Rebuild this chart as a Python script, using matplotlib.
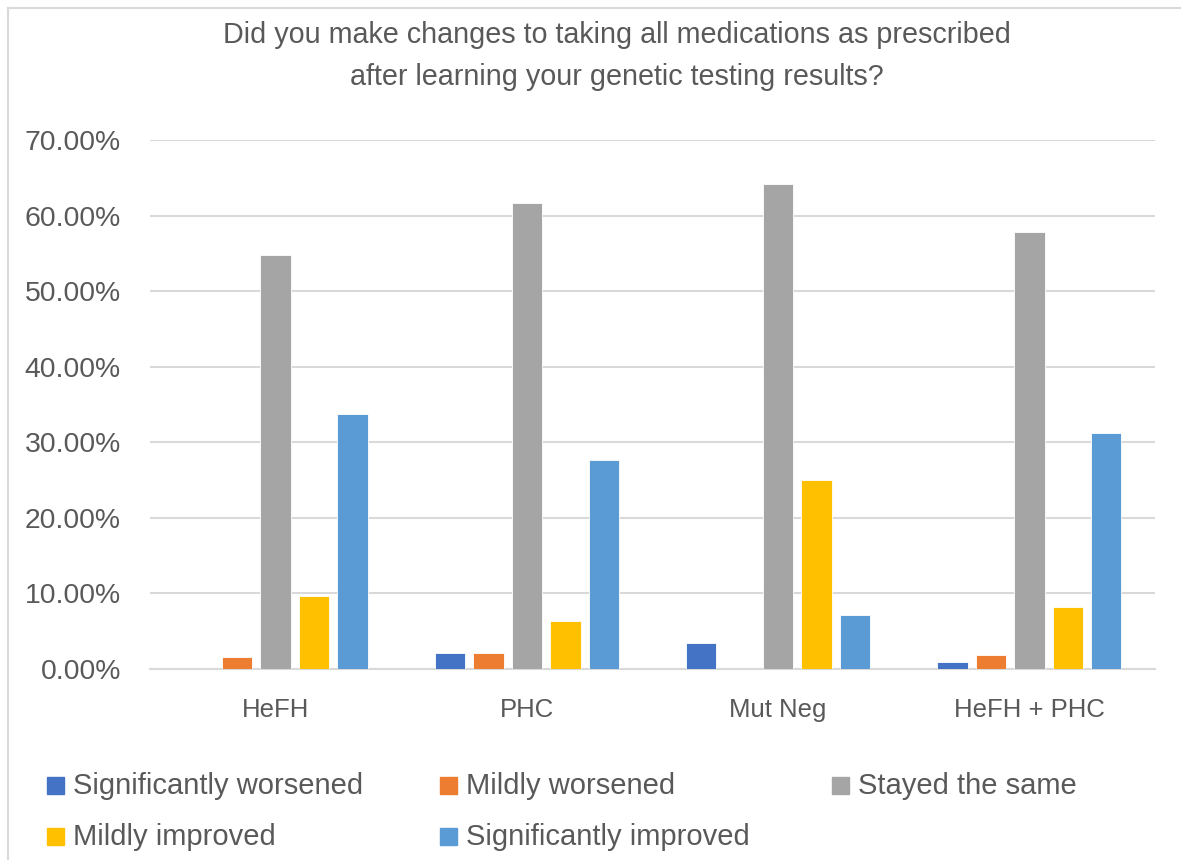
import numpy as np
import matplotlib
matplotlib.use("Agg")
import matplotlib.pyplot as plt
from matplotlib.patches import Rectangle
from matplotlib.lines import Line2D
from matplotlib.ticker import FuncFormatter

plt.rcParams['font.family'] = ['Liberation Sans', 'DejaVu Sans']

## data (fractions)
groups = ['HeFH', 'PHC', 'Mut Neg', 'HeFH + PHC']
responses = ['Significantly worsened', 'Mildly worsened', 'Stayed the same',
             'Mildly improved', 'Significantly improved']
sig_worsened = [0.0, 0.021, 0.035, 0.009]
mild_worsened = [0.016, 0.021, 0.0, 0.018]
stayed_same = [0.548, 0.616, 0.642, 0.578]
mild_improved = [0.096, 0.063, 0.250, 0.082]
sig_improved = [0.338, 0.277, 0.071, 0.312]
colors = ['#4472C4', '#ED7D31', '#A5A5A5', '#FFC000', '#5B9BD5']

series = [sig_worsened, mild_worsened, stayed_same, mild_improved, sig_improved]
txt = '#595959'

W, H = 1181, 860
fig = plt.figure(figsize=(W / 100, H / 100), dpi=100)

# outer chart frame: left and top edges
fx, fy = 7.5 / W, 1 - 7.5 / H
fig.add_artist(Line2D([fx, fx], [0, fy], color='#D9D9D9', linewidth=1.5))
fig.add_artist(Line2D([fx, 1], [fy, fy], color='#D9D9D9', linewidth=1.5))

ax = fig.add_axes([150 / W, 1 - 669 / H, 1005 / W, 529 / H])
x = np.arange(len(groups))
step, width = 0.153, 0.121
for k, (vals, col) in enumerate(zip(series, colors)):
    ax.bar(x + (k - 2) * step, vals, width, color=col, edgecolor='white',
           linewidth=0.6, zorder=3, label=responses[k])

ax.set_xlim(-0.5, len(groups) - 0.5)
ax.set_ylim(0, 0.70)
ax.set_yticks(np.arange(0, 0.71, 0.10))
ax.yaxis.set_major_formatter(FuncFormatter(lambda v, p: '%.2f%%' % (v * 100)))
ax.set_xticks(x)
ax.set_xticklabels(groups)
ax.grid(axis='y', color='#D9D9D9', linewidth=1.5, zorder=0)
for s in ['top', 'right', 'left']:
    ax.spines[s].set_visible(False)
ax.spines['bottom'].set_color('#D9D9D9')
ax.spines['bottom'].set_linewidth(1.5)
ax.tick_params(axis='y', length=0, pad=21, labelsize=20.4, labelcolor=txt)
ax.tick_params(axis='x', length=0, pad=21, labelsize=18.5, labelcolor=txt)

fig.text(617 / W, 1 - 56 / H,
         'Did you make changes to taking all medications as prescribed\n'
         'after learning your genetic testing results?',
         ha='center', va='center', fontsize=20.7, color=txt, linespacing=1.6)

# legend drawn by hand: three columns, two rows
col_x = [47, 440, 832]
row_y = [785, 836]
for k, lab in enumerate(responses):
    r, c = divmod(k, 3)
    fig.patches.append(Rectangle((col_x[c] / W, 1 - (row_y[r] + 8.5) / H), 17 / W, 17 / H,
                                 transform=fig.transFigure, color=colors[k]))
    fig.text((col_x[c] + 26) / W, 1 - (row_y[r] + 1) / H, lab, ha='left', va='center',
             fontsize=21, color=txt)

fig.savefig('out.png', dpi=100)
